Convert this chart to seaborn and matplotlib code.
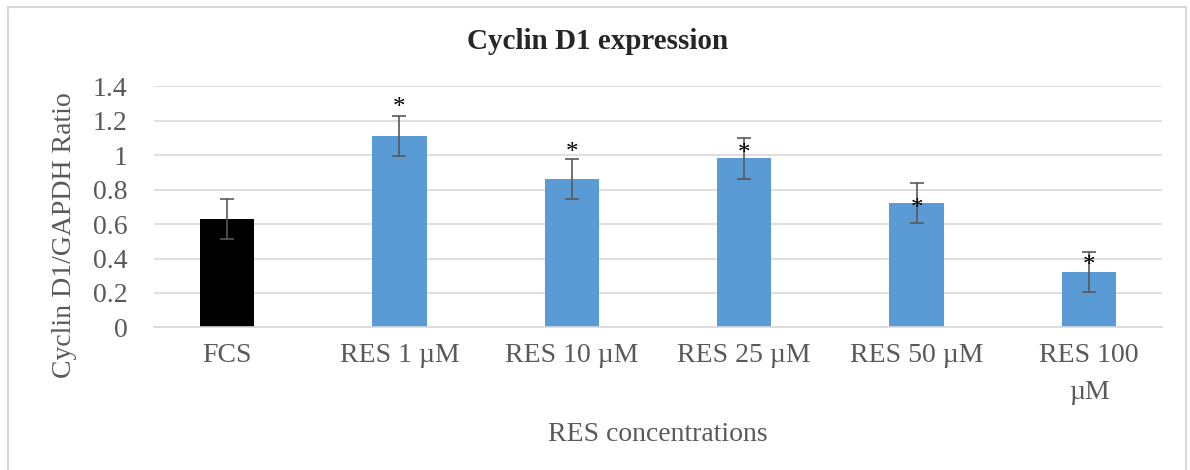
import matplotlib
matplotlib.use("Agg")
import matplotlib.pyplot as plt
import seaborn as sns
from matplotlib.patches import Rectangle

# data
categories = ["FCS", "RES 1 µM", "RES 10 µM", "RES 25 µM", "RES 50 µM", "RES 100\nµM"]
ratio = [0.63, 1.11, 0.86, 0.98, 0.72, 0.32]
ratio_err = [0.117, 0.117, 0.117, 0.117, 0.117, 0.117]
# heights where the significance stars sit (None = no star)
star_y = [None, 1.315, 1.052, 1.048, 0.729, 0.40]
star_text = ["", "*", "*", "*", "*", "*"]

sns.set_style("white")
plt.rcParams["font.family"] = ["Liberation Serif", "DejaVu Serif"]

gray = "#595959"
grid = "#d9d9d9"
colors = ["#000000"] + ["#5b9bd5"] * 5
fs = 20

fig = plt.figure(figsize=(11.9, 4.7), dpi=100)
ax = fig.add_axes([0.1294, 0.3032, 0.8471, 0.5138])

sns.barplot(x=categories, y=ratio, hue=categories, palette=colors,
            width=0.315, legend=False, saturation=1, ax=ax, edgecolor="none")

#error bars
ax.errorbar(ax.get_xticks(), ratio, yerr=ratio_err, fmt="none",
            ecolor=gray, elinewidth=1.2, capsize=5, capthick=1.2, zorder=3)

#stars
star_fs = 18
for x, y, s in zip(ax.get_xticks(), star_y, star_text):
    if y is None:
        continue
    ax.annotate(s, (x, y), xytext=(0, -0.53 * star_fs), textcoords="offset points",
                ha="center", va="baseline", fontsize=star_fs, color="black", zorder=4)

ax.set_ylim(0, 1.4)
ax.set_yticks([0, 0.2, 0.4, 0.6, 0.8, 1, 1.2, 1.4])
ax.set_yticklabels(["0", "0.2", "0.4", "0.6", "0.8", "1", "1.2", "1.4"])
ax.yaxis.grid(True, color=grid, linewidth=1.2)
ax.set_axisbelow(True)
for side in ["top", "right", "left"]:
    ax.spines[side].set_visible(False)
ax.spines["bottom"].set_color(grid)
ax.spines["bottom"].set_linewidth(1.2)

ax.tick_params(axis="y", length=0, pad=19, labelsize=fs, labelcolor=gray)
ax.tick_params(axis="x", length=0, pad=11, labelsize=fs, labelcolor=gray)
for lab in ax.get_xticklabels():
    lab.set_linespacing(1.65)

ax.set_xlabel("RES concentrations", fontsize=fs, color=gray)
ax.xaxis.set_label_coords(0.5, -0.391)
ax.set_ylabel("Cyclin D1/GAPDH Ratio", fontsize=fs, color=gray)
ax.yaxis.set_label_coords(-0.076, 0.383)

fig.suptitle("Cyclin D1 expression", fontsize=21, fontweight="bold", x=0.502, y=0.94)

# outer chart border
fig.patches.append(Rectangle((8 / 1190, -0.05), 1178 / 1190, 1.05 - 7 / 470,
                             transform=fig.transFigure, fill=False,
                             edgecolor=grid, linewidth=1.5))

plt.savefig("out.png", dpi=100)
